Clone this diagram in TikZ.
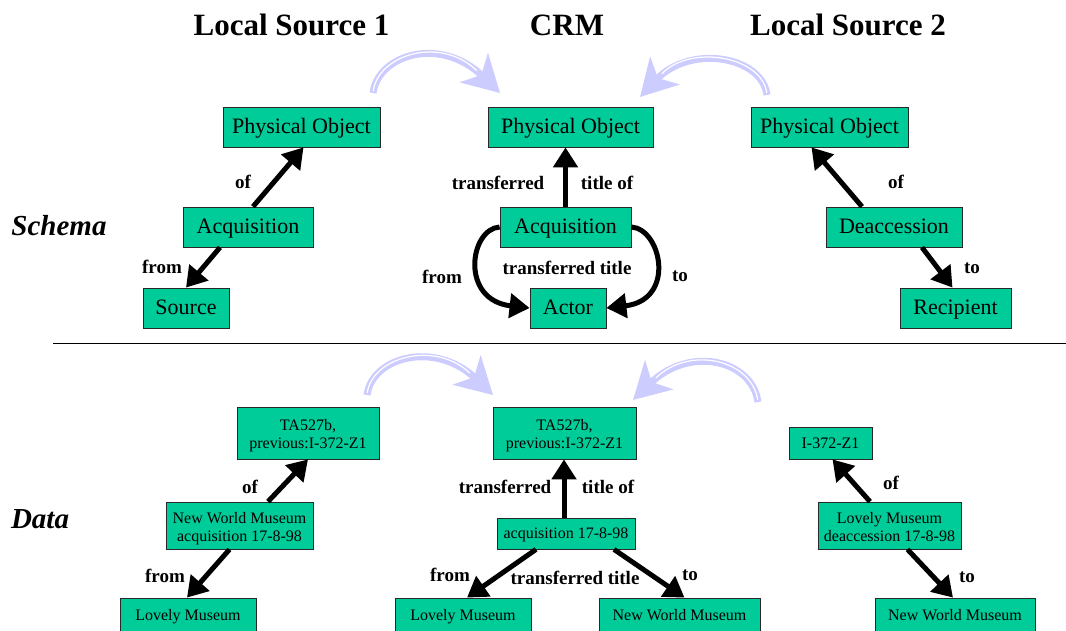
\documentclass[tikz,border=0pt]{standalone}
\usepackage{fontspec}
\setmainfont{Liberation Serif}
\usetikzlibrary{arrows.meta,calc}
\definecolor{nodefill}{RGB}{0,204,153}
\definecolor{lav}{RGB}{204,204,255}
\definecolor{edgec}{RGB}{40,40,40}
\begin{document}
\begin{tikzpicture}[x=1pt,y=-1pt,
  box/.style={draw=edgec, line width=0.8pt, fill=nodefill, inner sep=0pt, minimum height=40pt, text height=16pt, text depth=4pt, font=\fontsize{22}{24}\selectfont},
  dbox/.style={draw=edgec, line width=0.8pt, fill=nodefill, inner sep=0pt, align=center, text height=12.5pt, text depth=2pt, font=\fontsize{16}{18}\selectfont},
  dbox2/.style={dbox, text height=33pt, text depth=2pt},
  lbl/.style={font=\fontsize{19}{21}\selectfont\bfseries, inner sep=0pt},
  ttl/.style={font=\fontsize{31}{34}\selectfont\bfseries, inner sep=0pt},
  side/.style={font=\fontsize{29}{32}\selectfont\bfseries\itshape, inner sep=0pt},
  conn/.style={line width=5pt, -{Triangle[length=20pt,width=24pt]}},
  fat/.style={draw=lav, line width=7pt, -{Stealth[length=36pt,width=40pt,inset=10pt]}},
  fatline/.style={draw=white, line width=1.2pt, shorten >=32pt, shorten <=2pt}]
\useasboundingbox (0,0) rectangle (1066,630);

% titles
\node[ttl] (t1) at (291.5,25) {Local Source 1};
\node[ttl] (t2) at (567,25) {CRM};
\node[ttl] (t3) at (848,25) {Local Source 2};
\node[side] (schema) at (59,226) {Schema};
\node[side] (data) at (40,519) {Data};

% separator
\coordinate (sepL) at (53,343);
\coordinate (sepR) at (1066,343);
\draw[line width=1pt] (sepL) -- (sepR);

% fat lavender arrows
\coordinate (f1s) at (373,93); \coordinate (f1e) at (500,93);
\draw[fat] (f1s) .. controls (378,55) and (440,35) .. (f1e);
\draw[fatline] (f1s) .. controls (378,55) and (440,35) .. (f1e);
\coordinate (f2s) at (767,95); \coordinate (f2e) at (640,97);
\draw[fat] (f2s) .. controls (762,56) and (690,44) .. (f2e);
\draw[fatline] (f2s) .. controls (762,56) and (690,44) .. (f2e);
\coordinate (f3s) at (367,395); \coordinate (f3e) at (493,395);
\draw[fat] (f3s) .. controls (372,357) and (435,340) .. (f3e);
\draw[fatline] (f3s) .. controls (372,357) and (435,340) .. (f3e);
\coordinate (f4s) at (758,402); \coordinate (f4e) at (633,400);
\draw[fat] (f4s) .. controls (752,360) and (690,345) .. (f4e);
\draw[fatline] (f4s) .. controls (752,360) and (690,345) .. (f4e);

% schema nodes
\node[box,minimum width=157pt] (po1) at (301.5,127) {Physical Object};
\node[box,minimum width=130pt] (acq1) at (248,227) {Acquisition};
\node[box,minimum width=86pt] (src) at (186,308) {Source};
\node[box,minimum width=165pt] (po2) at (570.5,127) {Physical Object};
\node[box,minimum width=131pt] (acq2) at (565.5,227) {Acquisition};
\node[box,minimum width=76pt] (actor) at (568,308) {Actor};
\node[box,minimum width=157pt] (po3) at (829.5,127) {Physical Object};
\node[box,minimum width=136pt] (deacc) at (894,227) {Deaccession};
\node[box,minimum width=111pt] (rec) at (955.5,308) {Recipient};

% data nodes
\node[dbox2,minimum width=142pt,minimum height=52pt] (ta1) at (308,433) {TA527b,\\previous:I-372-Z1};
\node[dbox2,minimum width=147pt,minimum height=47pt] (nwa) at (239.5,525.5) {New World Museum\\acquisition 17-8-98};
\node[dbox,minimum width=136pt,minimum height=34pt] (lm1) at (188,615) {Lovely Museum};
\node[dbox2,minimum width=143pt,minimum height=52pt] (ta2) at (564.5,433) {TA527b,\\previous:I-372-Z1};
\node[dbox,minimum width=138pt,minimum height=31pt] (acq) at (566,533.5) {acquisition 17-8-98};
\node[dbox,minimum width=136pt,minimum height=34pt] (lm2) at (463,615) {Lovely Museum};
\node[dbox,minimum width=161pt,minimum height=34pt] (nwm2) at (679.5,615) {New World Museum};
\node[dbox,minimum width=83pt,minimum height=32pt] (i372) at (830.5,443) {I-372-Z1};
\node[dbox2,minimum width=143pt,minimum height=47pt] (lmd) at (889.5,525.5) {Lovely Museum\\deaccession 17-8-98};
\node[dbox,minimum width=160pt,minimum height=34pt] (nwm3) at (955,615) {New World Museum};

% schema connectors
\draw[conn] ([xshift=5pt]acq1.north) -- ([xshift=2pt]po1.south);
\draw[conn] ([xshift=-28pt]acq1.south) -- (src.north);
\draw[conn] (acq2.north) -- (acq2.north |- po2.south);
\draw[conn] (acq2.west) .. controls +(-30,2) and +(-70,-8) .. (actor.west);
\draw[conn] (acq2.east) .. controls +(30,2) and +(70,-8) .. (actor.east);
\draw[conn] ([xshift=-32pt]deacc.north) -- ([xshift=-18pt]po3.south);
\draw[conn] ([xshift=28pt]deacc.south) -- ([xshift=-3pt]rec.north);

% data connectors
\draw[conn] ([xshift=28.5pt]nwa.north) -- (ta1.south);
\draw[conn] ([xshift=-10pt]nwa.south) -- ([xshift=-1pt]lm1.north);
\draw[conn] ([xshift=-2pt]acq.north) -- ([xshift=-2pt]acq.north |- ta2.south);
\draw[conn] ([xshift=-30pt]acq.south) -- ([xshift=4pt]lm2.north);
\draw[conn] ([xshift=48pt]acq.south) -- ([xshift=5pt]nwm2.north);
\draw[conn] ([xshift=-19.5pt]lmd.north) -- ([xshift=2pt]i372.south);
\draw[conn] ([xshift=18pt]lmd.south) -- ([xshift=-2pt]nwm3.north);

% schema labels
\node[lbl] (l1) at (243,182) {of};
\node[lbl] (l2) at (162,267) {from};
\node[lbl] (l3) at (498,183) {transferred};
\node[lbl] (l4) at (607,183) {title of};
\node[lbl] (l5) at (442,277) {from};
\node[lbl] (l6) at (567,268) {transferred title};
\node[lbl] (l7) at (680,276) {to};
\node[lbl] (l8) at (896,182) {of};
\node[lbl] (l9) at (972,268) {to};

% data labels
\node[lbl] (m1) at (250,487) {of};
\node[lbl] (m2) at (165,576) {from};
\node[lbl] (m3) at (505,487) {transferred};
\node[lbl] (m4) at (608,487) {title of};
\node[lbl] (m5) at (450,575) {from};
\node[lbl] (m6) at (575,578) {transferred title};
\node[lbl] (m7) at (690,575) {to};
\node[lbl] (m8) at (891,483) {of};
\node[lbl] (m9) at (967,577) {to};
\end{tikzpicture}
\end{document}
